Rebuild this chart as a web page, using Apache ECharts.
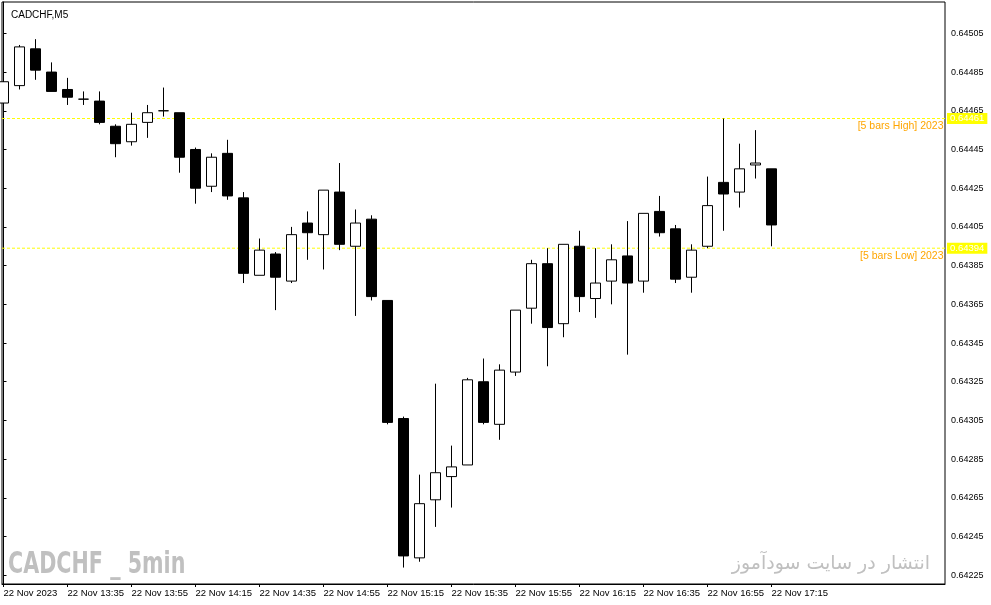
<!DOCTYPE html>
<html>
<head>
<meta charset="utf-8">
<script src="https://cdn.jsdelivr.net/npm/echarts@6/dist/echarts.min.js"></script>
<style>
html,body{margin:0;padding:0;background:#fff;}
#chart{width:991px;height:605px;}
</style>
</head>
<body>
<div id="chart"></div>
<script>
// ---- data (CADCHF, M5, 22 Nov 2023, 13:15 .. 17:15) ----
const open  = [0.64469,0.64478,0.64497,0.64485,0.64476,0.64471,0.64470,0.64457,0.64449,0.64459,0.64465,0.64464,0.64445,0.64426,0.64443,0.64420,0.64380,0.64391,0.64377,0.64407,0.64401,0.64423,0.64395,0.64409,0.64367,0.64306,0.64234,0.64264,0.64276,0.64282,0.64325,0.64303,0.64330,0.64363,0.64386,0.64355,0.64395,0.64368,0.64377,0.64390,0.64377,0.64413,0.64404,0.64379,0.64395,0.64428,0.64423,0.64437,0.64435];
const close = [0.64480,0.64498,0.64486,0.64475,0.64472,0.64471,0.64459,0.64448,0.64458,0.64464,0.64465,0.64441,0.64425,0.64441,0.64421,0.64381,0.64393,0.64379,0.64401,0.64402,0.64424,0.64396,0.64407,0.64369,0.64304,0.64235,0.64262,0.64278,0.64281,0.64326,0.64304,0.64331,0.64362,0.64386,0.64353,0.64396,0.64369,0.64376,0.64388,0.64376,0.64412,0.64402,0.64378,0.64393,0.64416,0.64422,0.64435,0.64438,0.64406];
const low   = [0.64469,0.64476,0.64481,0.64475,0.64468,0.64468,0.64458,0.64441,0.64447,0.64451,0.64462,0.64433,0.64417,0.64423,0.64419,0.64376,0.64380,0.64362,0.64376,0.64388,0.64383,0.64393,0.64359,0.64367,0.64303,0.64229,0.64232,0.64250,0.64260,0.64282,0.64303,0.64295,0.64328,0.64355,0.64333,0.64348,0.64361,0.64358,0.64365,0.64339,0.64371,0.64400,0.64376,0.64371,0.64394,0.64403,0.64415,0.64430,0.64395];
const high  = [0.64487,0.64499,0.64502,0.64490,0.64482,0.64475,0.64475,0.64458,0.64464,0.64468,0.64477,0.64464,0.64446,0.64443,0.64450,0.64423,0.64399,0.64392,0.64405,0.64413,0.64424,0.64438,0.64414,0.64411,0.64367,0.64307,0.64277,0.64324,0.64292,0.64327,0.64337,0.64334,0.64362,0.64388,0.64394,0.64396,0.64403,0.64394,0.64396,0.64408,0.64412,0.64421,0.64406,0.64396,0.64431,0.64461,0.64448,0.64455,0.64435];

// x tick labels, one every 4 bars starting at bar 0
const xTickLabels = ['22 Nov 2023','22 Nov 13:35','22 Nov 13:55','22 Nov 14:15','22 Nov 14:35','22 Nov 14:55','22 Nov 15:15','22 Nov 15:35','22 Nov 15:55','22 Nov 16:15','22 Nov 16:35','22 Nov 16:55','22 Nov 17:15'];
const xTickStep = 4;
// y tick labels
const yTickLabels = [0.64225,0.64245,0.64265,0.64285,0.64305,0.64325,0.64345,0.64365,0.64385,0.64405,0.64425,0.64445,0.64465,0.64485,0.64505];

const nBars = 5;
const fiveHigh = Math.max(...high.slice(-nBars));
const fiveLow = Math.min(...low.slice(-nBars));

const xMin = -0.094, xMax = 58.8435;
const yMin = 0.642205, yMax = 0.645212;

const candleData = open.map((o, i) => [i, o, close[i], low[i], high[i]]);
const xTickValues = xTickLabels.map((_, k) => k * xTickStep);

const chart = echarts.init(document.getElementById('chart'), null, {renderer: 'canvas'});

const labelFont = 'Liberation Sans';

function levelSeries(value, text) {
  return {
    type: 'line',
    silent: true,
    z: 1,
    symbol: 'rect',
    symbolSize: 1,
    showSymbol: true,
    itemStyle: {color: 'rgba(0,0,0,0)'},
    lineStyle: {color: '#ffff00', type: [3, 2], width: 1},
    label: {show: false},
    data: [
      [xMin, value],
      {value: [xMax, value],
        label: {show: true, position: 'left', distance: 1, offset: [0, 8], formatter: text,
          color: '#ffa500', fontFamily: labelFont, fontSize: 10.5}}
    ],
    endLabel: {
      show: true, distance: 2, formatter: value.toFixed(5),
      color: '#ffffff', backgroundColor: '#ffff00', padding: [1, 3, 0, 3], lineHeight: 10,
      fontFamily: labelFont, fontSize: 9.5
    },
    animation: false
  };
}

chart.setOption({
  animation: false,
  backgroundColor: '#fff',
  title: {
    text: 'CADCHF,M5',
    left: 6, top: 5,
    textStyle: {fontFamily: labelFont, fontSize: 10, fontWeight: 'normal', color: '#000'}
  },
  grid: {
    left: 2, right: 46, top: 2, bottom: 21,
    show: true, borderColor: '#000', borderWidth: 1, backgroundColor: '#fff',
    containLabel: false
  },
  xAxis: {
    type: 'value',
    min: xMin,
    max: xMax,
    axisLine: {show: true, lineStyle: {color: '#000', width: 1}},
    axisTick: {show: true, length: 3, customValues: xTickValues, lineStyle: {color: '#000'}},
    axisLabel: {
      show: true,
      customValues: xTickValues,
      align: 'left',
      margin: 4,
      fontFamily: labelFont,
      fontSize: 9.5,
      color: '#000',
      formatter: function (v) { return xTickLabels[Math.round(v / xTickStep)]; }
    },
    splitLine: {show: false}
  },
  yAxis: {
    type: 'value',
    position: 'right',
    min: yMin,
    max: yMax,
    scale: true,
    axisLine: {show: true, lineStyle: {color: '#000', width: 1}},
    axisTick: {show: true, length: 3, customValues: yTickLabels, lineStyle: {color: '#000'}},
    axisLabel: {
      show: true,
      customValues: yTickLabels,
      margin: 6,
      fontFamily: labelFont,
      fontSize: 9,
      color: '#000',
      formatter: function (v) { return v.toFixed(5); }
    },
    splitLine: {show: false}
  },
  graphic: [
    {
      type: 'text', z: 0,
      x: 8, y: 565,
      scaleX: 0.766,
      style: {
        text: 'CADCHF _ 5min',
        font: 'bold 30px "DejaVu Sans Condensed", "DejaVu Sans", sans-serif',
        fill: '#c0c0c0',
        align: 'left', verticalAlign: 'middle'
      }
    },
    {
      type: 'text', z: 0,
      x: 930, y: 564,
      style: {
        text: 'انتشار در سایت سودآموز',
        font: '19px "DejaVu Sans", sans-serif',
        fill: '#c0c0c0',
        align: 'right', verticalAlign: 'middle'
      }
    }
  ],
  series: [
    {
      type: 'candlestick',
      data: candleData,
      encode: {x: 0, y: [1, 2, 3, 4]},
      barWidth: 10,
      clip: true,
      z: 2,
      itemStyle: {
        color: '#ffffff',
        color0: '#000000',
        borderColor: '#000000',
        borderColor0: '#000000',
        borderWidth: 1
      }
    },
    levelSeries(fiveHigh, '[5 bars High] 2023'),
    levelSeries(fiveLow, '[5 bars Low] 2023')
  ]
});
</script>
</body>
</html>
